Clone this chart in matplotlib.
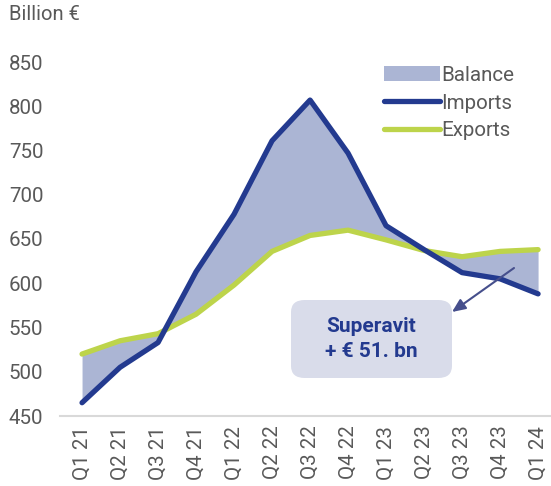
import matplotlib
matplotlib.use("Agg")
import matplotlib.pyplot as plt
from matplotlib.patches import FancyBboxPatch, Patch
from matplotlib.lines import Line2D

plt.rcParams['font.family'] = ['Roboto', 'DejaVu Sans']

quarters = ["Q1 21", "Q2 21", "Q3 21", "Q4 21", "Q1 22", "Q2 22", "Q3 22",
            "Q4 22", "Q1 23", "Q2 23", "Q3 23", "Q4 23", "Q1 24"]
imports = [465, 505, 533, 613, 678, 761, 807, 747, 665, 638, 612, 605, 588]
exports = [520, 535, 543, 565, 598, 636, 654, 660, 649, 637, 630, 636, 638]
yticks = [450, 500, 550, 600, 650, 700, 750, 800, 850]

navy = "#233a8f"
green = "#bdd44b"
fillc = "#abb5d4"
grey = "#595959"

W, H = 551, 486
fig = plt.figure(figsize=(W / 100, H / 100), dpi=100)
ax = fig.add_axes([60 / W, 70 / H, (W - 60) / W, (416 - 62) / H])

x = list(range(len(quarters)))
ax.fill_between(x, imports, exports, color=fillc, lw=0, zorder=1)
ax.plot(x, exports, color=green, lw=3.8, solid_capstyle='round', solid_joinstyle='round', zorder=2)
ax.plot(x, imports, color=navy, lw=3.8, solid_capstyle='round', solid_joinstyle='round', zorder=3)

ax.set_ylim(450, 850)
ax.set_xlim(-0.58, 12.34)
ax.set_yticks(yticks)
ax.set_xticks(x)
ax.set_xticklabels(quarters, rotation=90)
ax.tick_params(axis='both', length=0, labelsize=14.8, colors=grey)
ax.tick_params(axis='y', pad=12)
ax.tick_params(axis='x', pad=7)
for s in ['top', 'right', 'left']:
    ax.spines[s].set_visible(False)
ax.spines['bottom'].set_color("#d9d9d9")
ax.spines['bottom'].set_linewidth(1.5)
ax.spines['bottom'].set_zorder(0)

fig.text(9 / W, 1 - 15 / H, "Billion €", fontsize=14.5, color=grey, va='center', ha='left')

handles = [Patch(facecolor=fillc, edgecolor='none'),
           Line2D([0], [0], color=navy, lw=3.8, solid_capstyle='round'),
           Line2D([0], [0], color=green, lw=3.8, solid_capstyle='round')]
leg = fig.legend(handles, ["Balance", "Imports", "Exports"], loc='upper left',
                 bbox_to_anchor=(384 / W, 1 - 66 / H), frameon=False,
                 fontsize=14.8, handlelength=2.7, handleheight=0.75, handletextpad=0.1,
                 labelspacing=0.42, borderaxespad=0, borderpad=0)
for t in leg.get_texts():
    t.set_color(grey)

# annotation box
bx0, by0, bx1, by1 = 291, 300, 452, 378
box = FancyBboxPatch((bx0 / W, 1 - by1 / H), (bx1 - bx0) / W, (by1 - by0) / H,
                     boxstyle="round,pad=0,rounding_size=0.025", transform=fig.transFigure,
                     facecolor="#d9dcea", edgecolor='none', zorder=4)
fig.patches.append(box)
fig.text((bx0 + bx1) / 2 / W, 1 - 339 / H, "Superavit\n+ € 51. bn", ha='center', va='center',
         fontsize=15, fontweight='bold', color=navy, linespacing=1.35, zorder=5)
ax.annotate("", xy=(452 / W, 1 - 312 / H), xycoords='figure fraction',
            xytext=(514 / W, 1 - 268 / H), textcoords='figure fraction',
            arrowprops=dict(arrowstyle='-|>,head_length=0.8,head_width=0.35', color="#464f8c", lw=1.5,
                            shrinkA=0, shrinkB=0), zorder=6, annotation_clip=False)

fig.savefig("out.png", dpi=100)
